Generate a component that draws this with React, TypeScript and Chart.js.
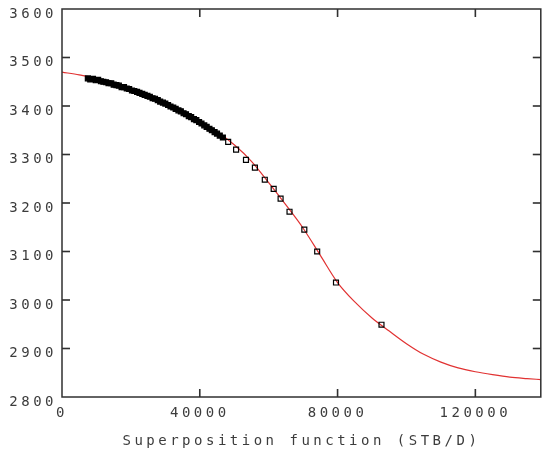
import React, { useEffect, useRef } from 'react';
import { Chart, registerables } from 'chart.js';

Chart.register(...registerables);

// Model (red curve)
const modelX = [0, 5000, 10000, 15000, 20000, 25000, 30000, 35000, 40000, 45000, 50000, 55000, 60000, 65000, 70000, 75000, 80000, 85000, 90000, 95000, 100000, 105000, 110000, 115000, 120000, 125000, 130000, 135000, 139000];
const modelY = [3470, 3464, 3457, 3446, 3434, 3421, 3405, 3388, 3369, 3347, 3320, 3286, 3242, 3196, 3148, 3092, 3036, 2996, 2963, 2936, 2910, 2888, 2872, 2860, 2852, 2846, 2841, 2838, 2836];

// Observed data (black squares)
const obsX = [7500, 8200, 9000, 9800, 10500, 11300, 12000, 12800, 13500, 14300, 15000, 15800, 16500, 17300, 18000, 18800, 19500, 20300, 21000, 21800, 22500, 23300, 24000, 24800, 25500, 26300, 27000, 27800, 28500, 29300, 30000, 30800, 31500, 32300, 33000, 33800, 34500, 35300, 36000, 36800, 37500, 38300, 39000, 39800, 40500, 41300, 42000, 42800, 43500, 44300, 45000, 45800, 46700, 48240, 50540, 53410, 56000, 58870, 61450, 63460, 66050, 70350, 74080, 79540, 92750];
const obsY = [3457, 3455, 3456, 3453, 3454, 3451, 3450, 3449, 3447, 3447, 3444, 3443, 3442, 3439, 3439, 3436, 3435, 3432, 3431, 3429, 3427, 3425, 3423, 3421, 3419, 3416, 3415, 3412, 3409, 3407, 3405, 3402, 3399, 3397, 3394, 3391, 3389, 3385, 3383, 3379, 3377, 3373, 3371, 3367, 3364, 3360, 3357, 3353, 3350, 3346, 3343, 3339, 3335, 3326, 3310, 3289, 3273, 3248, 3229, 3209, 3182, 3145, 3100, 3036, 2949];
// points below this x are so dense in the source that they merge into a solid band
const denseLimit = 47000;

const xTicks = [0, 40000, 80000, 120000];
const yTicks = [2800, 2900, 3000, 3100, 3200, 3300, 3400, 3500, 3600];
const xMin = 0;
const xMax = 139000;
const yMin = 2800;
const yMax = 3600;
const xTitle = 'Superposition function (STB/D)';

const TEXT = '#3c3c3c';
const FONT = { family: '"DejaVu Sans Mono", monospace', size: 14 };

const framePlugin = {
  id: 'frame',
  beforeUpdate(chart: any) { chart.ctx.letterSpacing = '3.5px'; },
  beforeLayout(chart: any) { chart.ctx.letterSpacing = '3.5px'; },
  beforeDraw(chart: any) { chart.ctx.letterSpacing = '3.5px'; },
  afterDraw(chart: any) {
    const ctx = chart.ctx;
    const a = chart.chartArea;
    ctx.save();
    ctx.strokeStyle = '#303030';
    ctx.lineWidth = 1.5;
    ctx.strokeRect(a.left, a.top, a.right - a.left, a.bottom - a.top);
    ctx.fillStyle = '#303030';
    const L = 8;
    for (let i = 0; i < xTicks.length; i++) {
      const px = chart.scales.x.getPixelForValue(xTicks[i]);
      if (px > a.left + 1) {
        ctx.fillRect(px - 0.8, a.bottom - L, 1.6, L);
        ctx.fillRect(px - 0.8, a.top, 1.6, L);
      }
    }
    for (let i = 0; i < yTicks.length; i++) {
      const py = chart.scales.y.getPixelForValue(yTicks[i]);
      if (py > a.top + 1 && py < a.bottom - 1) {
        ctx.fillRect(a.left, py - 0.8, L, 1.6);
        ctx.fillRect(a.right - L, py - 0.8, L, 1.6);
      }
    }
    ctx.restore();
  },
};

export default function App() {
  const ref = useRef<HTMLCanvasElement>(null);
  useEffect(() => {
    if (!ref.current) return;
    const chart = new Chart(ref.current, {
      type: 'scatter',
      data: {
        datasets: [
          {
            label: 'Observed',
            data: obsX.map((x, i) => ({ x, y: obsY[i] })),
            pointStyle: 'rect',
            pointRadius: 3.5,
            pointBorderWidth: 1.2,
            pointBorderColor: '#000',
            pointBackgroundColor: (c: any) => (c.raw && c.raw.x < denseLimit ? '#000' : 'rgba(0,0,0,0)'),
            showLine: false,
            order: 0,
          },
          {
            label: 'Model',
            data: modelX.map((x, i) => ({ x, y: modelY[i] })),
            showLine: true,
            pointRadius: 0,
            borderColor: 'rgb(225,50,50)',
            borderWidth: 1.2,
            cubicInterpolationMode: 'monotone',
            order: 1,
          },
        ],
      },
      options: {
        animation: false,
        responsive: false,
        layout: { padding: { top: 9, left: 0, right: 0, bottom: 0 } },
        plugins: { legend: { display: false }, tooltip: { enabled: false } },
        scales: {
          x: {
            type: 'linear',
            min: xMin,
            max: xMax,
            grid: { display: false, drawTicks: false },
            border: { display: false },
            ticks: { color: TEXT, font: FONT, padding: 8, maxRotation: 0, includeBounds: false, callback: (v: any) => String(v) },
            afterBuildTicks: (s: any) => { s.ticks = xTicks.map((v) => ({ value: v })); },
            afterFit: (s: any) => { s.height = 53; s.paddingLeft = 0; s.paddingRight = 0; },
            title: { display: true, text: xTitle, color: TEXT, font: FONT, padding: { top: 0, bottom: 0 } },
          },
          y: {
            type: 'linear',
            min: yMin,
            max: yMax,
            grid: { display: false, drawTicks: false },
            border: { display: false },
            ticks: { color: TEXT, font: FONT, padding: 5, labelOffset: 5, includeBounds: false, callback: (v: any) => String(v) },
            afterBuildTicks: (s: any) => { s.ticks = yTicks.map((v) => ({ value: v })); },
            afterFit: (s: any) => { s.width = 62; s.paddingTop = 0; s.paddingBottom = 0; },
          },
        },
      },
      plugins: [framePlugin],
    } as any);
    return () => chart.destroy();
  }, []);
  return (
    <div style={{ position: 'fixed', left: 0, top: 0, width: 546, height: 450, background: '#fff' }}>
      <canvas ref={ref} width={546} height={450} />
    </div>
  );
}
